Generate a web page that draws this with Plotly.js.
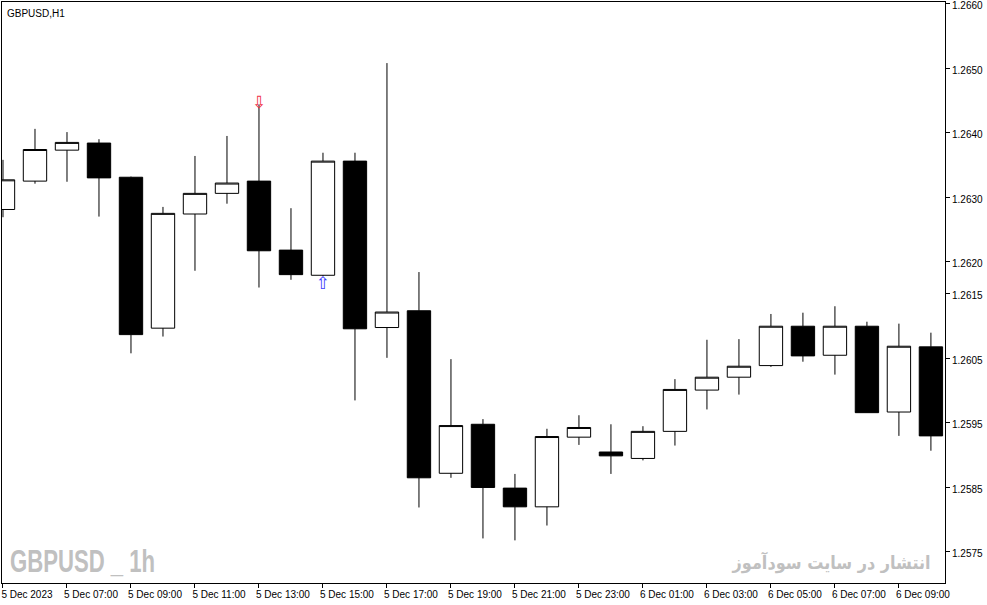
<!DOCTYPE html>
<html>
<head>
<meta charset="utf-8">
<script src="https://cdn.plot.ly/plotly-3.0.1.min.js"></script>
<style>
  html, body { margin: 0; padding: 0; background: #ffffff; }
  #chart { width: 987px; height: 605px; }
</style>
</head>
<body>
<div id="chart"></div>
<script>
// ---- Data (GBPUSD, H1) ----
const times = [
  "2023-12-05 05:00","2023-12-05 06:00","2023-12-05 07:00","2023-12-05 08:00","2023-12-05 09:00",
  "2023-12-05 10:00","2023-12-05 11:00","2023-12-05 12:00","2023-12-05 13:00","2023-12-05 14:00",
  "2023-12-05 15:00","2023-12-05 16:00","2023-12-05 17:00","2023-12-05 18:00","2023-12-05 19:00",
  "2023-12-05 20:00","2023-12-05 21:00","2023-12-05 22:00","2023-12-05 23:00","2023-12-06 00:00",
  "2023-12-06 01:00","2023-12-06 02:00","2023-12-06 03:00","2023-12-06 04:00","2023-12-06 05:00",
  "2023-12-06 06:00","2023-12-06 07:00","2023-12-06 08:00","2023-12-06 09:00","2023-12-06 10:00"
];
const openP = [
  1.26281, 1.26325, 1.26373, 1.26384, 1.26331, 1.26097, 1.26274, 1.26306, 1.26325, 1.26218,
  1.26179, 1.26356, 1.26098, 1.26124, 1.25872, 1.25948, 1.25849, 1.25820, 1.25928, 1.25905,
  1.25895, 1.25937, 1.26001, 1.26021, 1.26039, 1.26100, 1.26055, 1.26100, 1.25967, 1.26068
];
const highP = [
  1.26358, 1.26406, 1.26401, 1.26390, 1.26332, 1.26285, 1.26364, 1.26395, 1.26444, 1.26283,
  1.26369, 1.26369, 1.26508, 1.26184, 1.26049, 1.25956, 1.25871, 1.25941, 1.25962, 1.25948,
  1.25945, 1.26018, 1.26079, 1.26080, 1.26119, 1.26121, 1.26131, 1.26107, 1.26104, 1.26090
];
const lowP = [
  1.26269, 1.26321, 1.26324, 1.26270, 1.26058, 1.26084, 1.26186, 1.26290, 1.26160, 1.26172,
  1.26178, 1.25985, 1.26051, 1.25819, 1.25865, 1.25771, 1.25768, 1.25791, 1.25916, 1.25871,
  1.25892, 1.25915, 1.25971, 1.25994, 1.26037, 1.26045, 1.26025, 1.25966, 1.25930, 1.25907
];
const closeP = [
  1.26327, 1.26374, 1.26385, 1.26330, 1.26087, 1.26275, 1.26306, 1.26322, 1.26217, 1.26180,
  1.26356, 1.26096, 1.26122, 1.25865, 1.25946, 1.25850, 1.25820, 1.25929, 1.25943, 1.25899,
  1.25937, 1.26002, 1.26021, 1.26038, 1.26100, 1.26054, 1.26100, 1.25966, 1.26069, 1.25930
];
const xTickText = [
  "5 Dec 2023","5 Dec 07:00","5 Dec 09:00","5 Dec 11:00","5 Dec 13:00","5 Dec 15:00",
  "5 Dec 17:00","5 Dec 19:00","5 Dec 21:00","5 Dec 23:00","6 Dec 01:00","6 Dec 03:00",
  "6 Dec 05:00","6 Dec 07:00","6 Dec 09:00"
];
const yTickVals = [1.2660, 1.2650, 1.2640, 1.2630, 1.2620, 1.2615, 1.2605, 1.2595, 1.2585, 1.2575];
const yTickText = ["1.2660","1.2650","1.2640","1.2630","1.2620","1.2615","1.2605","1.2595","1.2585","1.2575"];
const sellSignalTimes = ["2023-12-05 13:00"];
const buySignalTimes = ["2023-12-05 15:00"];

// ---- Build traces ----
const xTickVals = times.filter((t, i) => i % 2 === 0).slice(0, xTickText.length);
const sellY = sellSignalTimes.map(t => highP[times.indexOf(t)]);
const buyY = buySignalTimes.map(t => lowP[times.indexOf(t)]);

const candles = {
  type: 'candlestick',
  x: times,
  open: openP, high: highP, low: lowP, close: closeP,
  increasing: { line: { color: '#000000', width: 1 }, fillcolor: '#ffffff' },
  decreasing: { line: { color: '#000000', width: 1 }, fillcolor: '#000000' },
  whiskerwidth: 0,
  hoverinfo: 'skip',
  showlegend: false
};
const buyArrows = {
  type: 'scatter', mode: 'text',
  x: buySignalTimes, y: buyY,
  text: buySignalTimes.map(() => '⇧'),
  textposition: 'bottom center',
  textfont: { family: 'DejaVu Sans', size: 17, color: '#3a3aff' },
  hoverinfo: 'skip', showlegend: false, cliponaxis: false
};

const axisFont = { family: 'Liberation Sans, Arial, sans-serif', size: 10, color: '#000000' };

const sellAnnotations = sellSignalTimes.map((t, i) => ({
  text: '⇩', xref: 'x', yref: 'y', x: t, y: sellY[i],
  xanchor: 'center', yanchor: 'middle', yshift: 2, showarrow: false,
  font: { family: 'DejaVu Sans', size: 17, color: '#f03048' }
}));

const layout = {
  width: 987, height: 605,
  margin: { l: 2, r: 42, t: 2, b: 22, pad: 0 },
  paper_bgcolor: '#ffffff', plot_bgcolor: '#ffffff',
  font: axisFont,
  showlegend: false,
  boxgap: 0.27, boxgroupgap: 0,
  xaxis: {
    type: 'category',
    range: [-0.031, 29.44],
    rangeslider: { visible: false },
    showgrid: false, zeroline: false,
    showline: true, linecolor: '#000000', linewidth: 1, mirror: true,
    ticks: 'outside', ticklen: 4, tickcolor: '#000000', tickwidth: 1,
    tickvals: xTickVals, ticktext: xTickText,
    ticklabelshift: 24,
    ticklabelstandoff: -2,
    tickfont: axisFont,
    fixedrange: true
  },
  yaxis: {
    side: 'right',
    range: [1.257019, 1.266027],
    showgrid: false, zeroline: false,
    showline: true, linecolor: '#000000', linewidth: 1, mirror: true,
    ticks: 'outside', ticklen: 4, tickcolor: '#000000', tickwidth: 1,
    tickvals: yTickVals, ticktext: yTickText,
    ticklabeloverflow: 'allow',
    ticklabelshift: 2,
    tickfont: axisFont,
    fixedrange: true
  },
  annotations: [
    { text: 'GBPUSD,H1', xref: 'paper', yref: 'paper', x: 0.003, y: 0.993,
      xanchor: 'left', yanchor: 'top', showarrow: false,
      font: axisFont },
    { text: 'GBPUSD _ 1h', xref: 'paper', yref: 'paper', x: 0.006, y: 0.003,
      xanchor: 'left', yanchor: 'bottom', showarrow: false,
      font: { family: 'Liberation Sans, Arial, sans-serif', size: 32, weight: 700, color: '#c0c0c0' } },
    { text: 'انتشار در سایت سودآموز', xref: 'paper', yref: 'paper', x: 0.9875, y: 0.012,
      xanchor: 'right', yanchor: 'bottom', showarrow: false,
      font: { family: 'DejaVu Sans, sans-serif', size: 18, weight: 700, color: '#c0c0c0' } }
  ].concat(sellAnnotations)
};

Plotly.newPlot('chart', [candles, buyArrows], layout, { staticPlot: true, displayModeBar: false })
  .then(function () {
    // condense the watermark texts to the reference widths
    const targets = { 'GBPUSD _ 1h': 145, 'انتشار در سایت سودآموز': 198 };
    document.querySelectorAll('#chart text.annotation-text').forEach(function (el) {
      const w = targets[el.textContent];
      if (!w) return;
      const before = el.getBBox();
      el.setAttribute('textLength', w);
      el.setAttribute('lengthAdjust', 'spacingAndGlyphs');
      const after = el.getBBox();
      if (el.textContent === 'GBPUSD _ 1h') {
        el.setAttribute('transform', 'translate(' + (before.x - after.x) + ',0)');
      } else {
        el.setAttribute('transform', 'translate(' + ((before.x + before.width) - (after.x + after.width)) + ',0)');
      }
    });
  });
</script>
</body>
</html>
